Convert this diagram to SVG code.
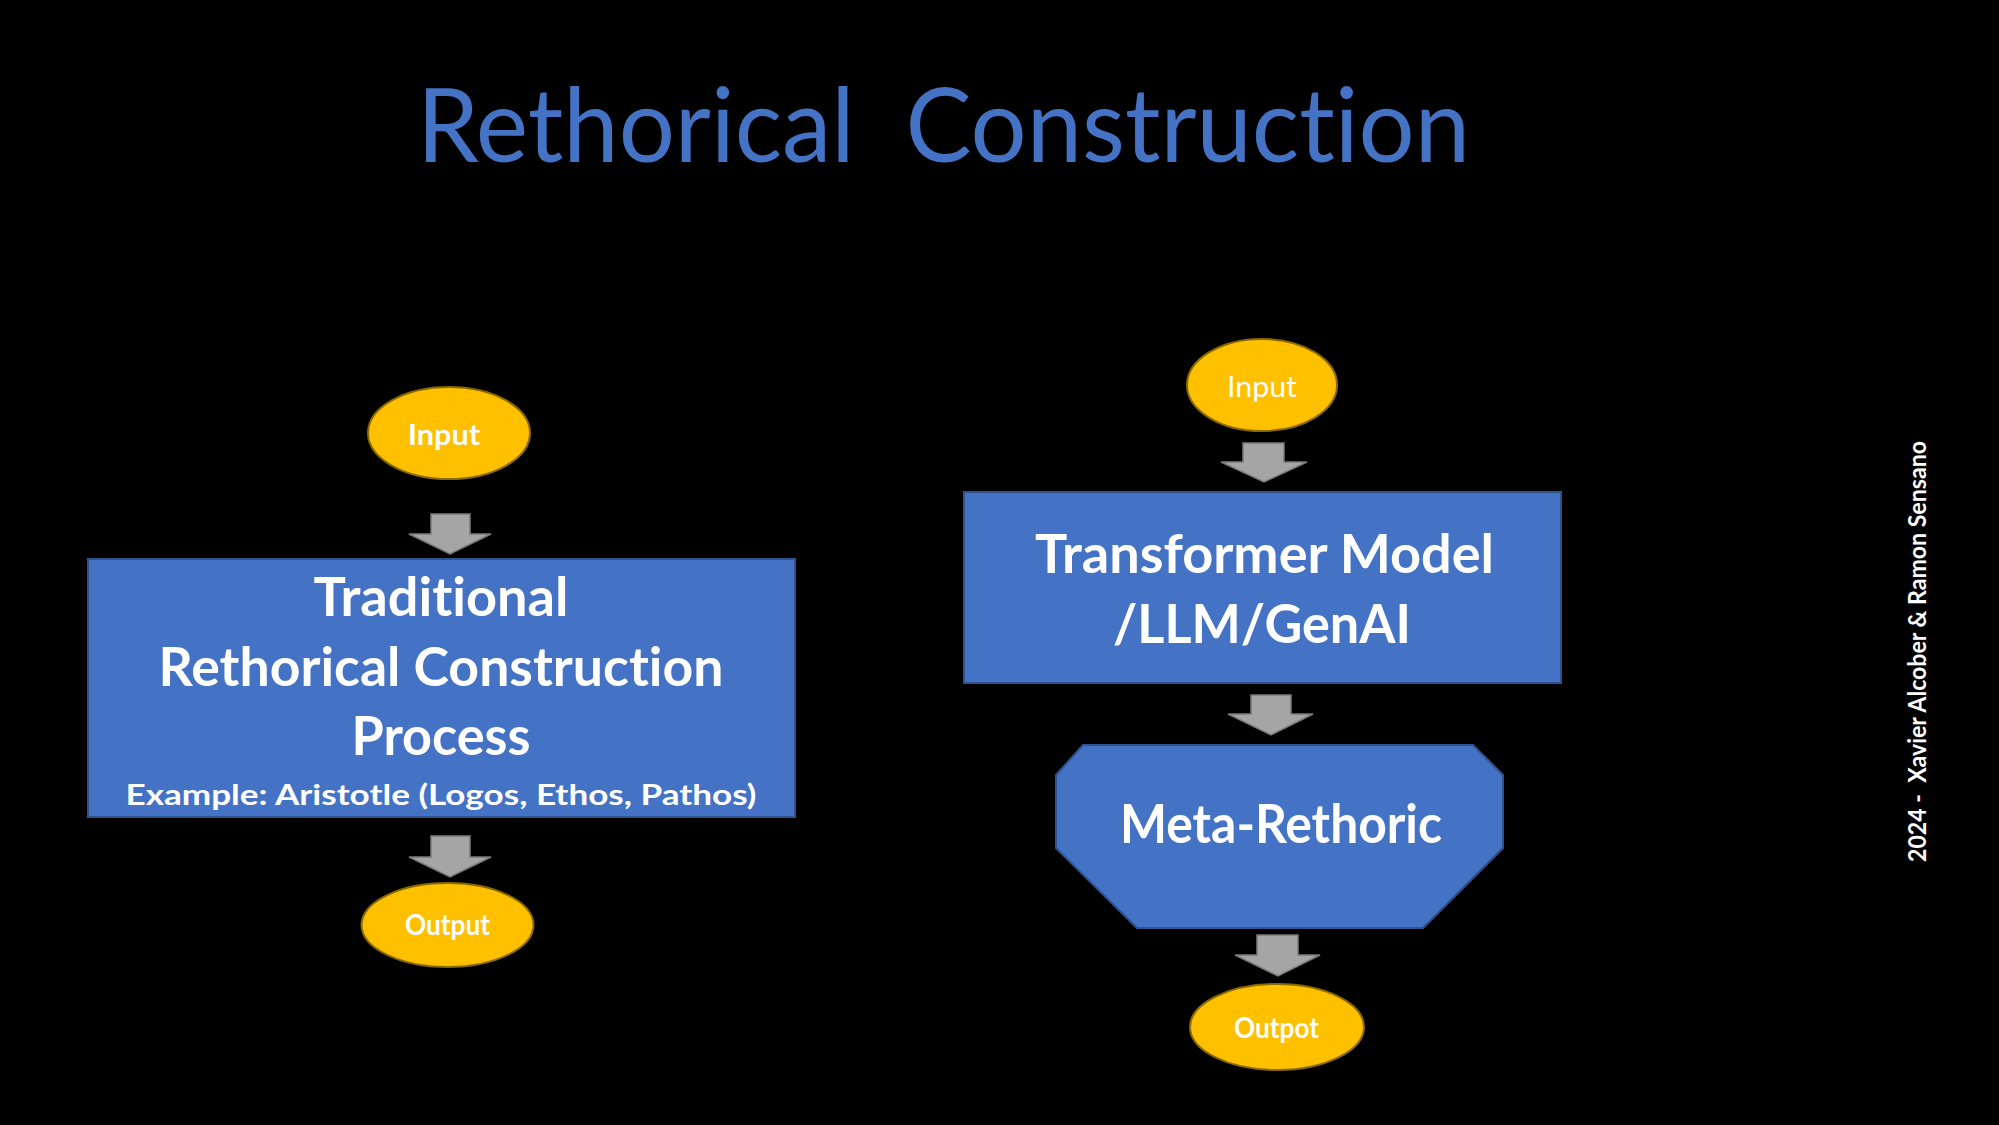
<svg xmlns="http://www.w3.org/2000/svg" width="1999" height="1125" viewBox="0 0 1999 1125">
<style>
.bg{fill:#000}
.box{fill:#4472C4;stroke:#2F528F;stroke-width:2}
.oval{fill:#FFC000;stroke:#8A6A00;stroke-width:2}
.arr{fill:#A5A5A5;stroke:#7A7A7A;stroke-width:1.5}
text{font-family:Lato,"Open Sans","Liberation Sans",sans-serif;fill:#fff;text-anchor:middle;white-space:pre;font-variant-ligatures:none;font-feature-settings:"liga" 0}
.b{font-weight:bold}
.big{font-size:54px;font-weight:bold}
.title{font-size:102px;font-weight:400;fill:#4472C4}
.lbl{font-size:29px}
</style>
<rect class="bg" x="0" y="0" width="1999" height="1125"/>
<text class="title" x="943.5" y="162" textLength="1053" lengthAdjust="spacingAndGlyphs" xml:space="preserve">Rethorical  Construction</text>

<g id="connectors">
<polygon class="arr" points="431,514 470,514 470,534 491,534 450,554 409,534 431,534"/>
<polygon class="arr" points="431,836 470,836 470,857 491,857 450,877 409,857 431,857"/>
<polygon class="arr" points="1243,443 1284,443 1284,462 1307,462 1264,482 1221,462 1243,462"/>
<polygon class="arr" points="1251,695 1291,695 1291,714 1313,714 1271,735 1228,714 1251,714"/>
<polygon class="arr" points="1257,935 1298,935 1298,955 1320,955 1278,976 1235,955 1257,955"/>
</g>

<g id="left-input">
<ellipse class="oval" cx="449" cy="433" rx="81" ry="46"/>
<text class="lbl b" x="444" y="445" textLength="72" lengthAdjust="spacingAndGlyphs">Input</text>
</g>
<g id="left-process">
<rect class="box" x="88" y="559" width="707" height="258"/>
<text class="big" x="441" y="616" textLength="255" lengthAdjust="spacingAndGlyphs">Traditional</text>
<text class="big" x="441" y="686" textLength="565" lengthAdjust="spacingAndGlyphs">Rethorical Construction</text>
<text class="big" x="441" y="755" textLength="179" lengthAdjust="spacingAndGlyphs">Process</text>
<text class="b" x="441" y="805" style="font-size:29px" textLength="631" lengthAdjust="spacingAndGlyphs">Example: Aristotle (Logos, Ethos, Pathos)</text>
</g>
<g id="left-output">
<ellipse class="oval" cx="447.5" cy="925" rx="86" ry="42"/>
<text class="lbl b" x="447.5" y="935" textLength="85" lengthAdjust="spacingAndGlyphs">Output</text>
</g>

<g id="right-input">
<ellipse class="oval" cx="1262" cy="385" rx="75" ry="46"/>
<text class="lbl" x="1262" y="397" textLength="70" lengthAdjust="spacingAndGlyphs">Input</text>
</g>
<g id="right-transformer">
<rect class="box" x="964" y="492" width="597" height="191"/>
<text class="big" x="1264.5" y="573" textLength="459" lengthAdjust="spacingAndGlyphs">Transformer Model</text>
<text class="big" x="1262" y="643" textLength="298" lengthAdjust="spacingAndGlyphs">/LLM/GenAI</text>
</g>
<g id="right-meta">
<polygon class="box" points="1083,745 1473,745 1503,775 1503,848 1423,928 1137,928 1056,848 1056,775"/>
<text class="big" x="1281" y="843" textLength="322" lengthAdjust="spacingAndGlyphs">Meta-Rethoric</text>
</g>
<g id="right-output">
<ellipse class="oval" cx="1277" cy="1027" rx="87" ry="43"/>
<text class="lbl b" x="1276.5" y="1038" textLength="85" lengthAdjust="spacingAndGlyphs">Outpot</text>
</g>

<text class="b" transform="translate(1926,651.5) rotate(-90)" x="0" y="0" style="font-size:24px" textLength="421" lengthAdjust="spacingAndGlyphs" xml:space="preserve">2024 -  Xavier Alcober &amp; Ramon Sensano</text>
</svg>
